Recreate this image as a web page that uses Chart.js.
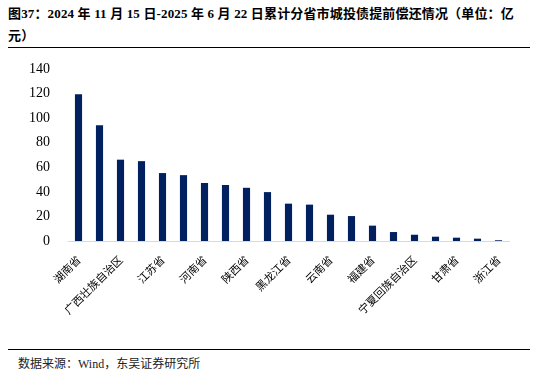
<!DOCTYPE html>
<html>
<head>
<meta charset="utf-8">
<script src="https://cdn.jsdelivr.net/npm/chart.js@4/dist/chart.umd.min.js"></script>
<style>
  body { margin: 0; width: 538px; height: 376px; background: #fff; position: relative; overflow: hidden;
         font-family: "Liberation Serif", "Noto Sans CJK SC", serif; }
  .title { position: absolute; left: 8px; top: 3px; width: 524px; font-size: 13px; font-weight: bold;
           line-height: 22px; color: #000; white-space: nowrap; letter-spacing: 0.15px; }
  .rule { position: absolute; left: 8px; width: 522px; height: 0; border-top: 1.5px solid #000; }
  .src { position: absolute; left: 18px; top: 354px; font-size: 12px; color: #222; }
  #box { position: absolute; left: 0; top: 50px; width: 538px; height: 292px; }
</style>
</head>
<body>
<div class="title">图37：2024 年 11 月 15 日-2025 年 6 月 22 日累计分省市城投债提前偿还情况（单位：亿<br>元）</div>
<div class="rule" style="top:47px"></div>
<div id="box"><canvas id="c"></canvas></div>
<div class="rule" style="top:349px"></div>
<div class="src">数据来源：Wind，东吴证券研究所</div>
<script>
// 省份（只显示奇数位的标签，其余按原图隐藏）
const provinces = ["湖南省", "贵州省", "广西壮族自治区", "天津市", "江苏省", "四川省", "河南省", "重庆市",
  "陕西省", "山东省", "黑龙江省", "吉林省", "云南省", "湖北省", "福建省", "江西省",
  "宁夏回族自治区", "内蒙古自治区", "甘肃省", "安徽省", "浙江省"];
// 提前偿还规模（亿元）
const amounts = [119.5, 94.3, 66.2, 65, 55.3, 53.6, 47.2, 45.6, 43.3, 39.8,
  30.4, 29.6, 21.4, 20.3, 12.5, 7.3, 5.1, 3.5, 2.7, 1.9, 0.6];
const yTicks = [0, 20, 40, 60, 80, 100, 120, 140];

const ctx = document.getElementById("c").getContext("2d");
new Chart(ctx, {
  type: "bar",
  data: {
    labels: provinces,
    datasets: [{
      data: amounts,
      backgroundColor: "#002060",
      categoryPercentage: 1,
      barPercentage: 0.34
    }]
  },
  options: {
    responsive: true,
    maintainAspectRatio: false,
    animation: false,
    layout: { padding: { left: 8, right: 29, top: 19, bottom: 0 } },
    plugins: { legend: { display: false }, tooltip: { enabled: false } },
    scales: {
      x: {
        grid: { display: false },
        border: { display: true, color: "#d9d9d9", width: 1 },
        afterFit: s => { s.height = 101; },
        ticks: {
          autoSkip: false,
          minRotation: 45,
          maxRotation: 45,
          padding: 4,
          color: "#000",
          font: { family: "'Noto Sans CJK SC'", size: 11 },
          callback: (v, i) => i % 2 === 0 ? provinces[i] : ""
        }
      },
      y: {
        min: 0,
        max: 140,
        grid: { display: false },
        border: { display: false },
        afterFit: s => { s.width = 60; },
        afterBuildTicks: s => { s.ticks = yTicks.map(v => ({ value: v })); },
        ticks: {
          padding: 10,
          color: "#000",
          font: { family: "'Liberation Serif'", size: 14 }
        }
      }
    }
  }
});
</script>
</body>
</html>
